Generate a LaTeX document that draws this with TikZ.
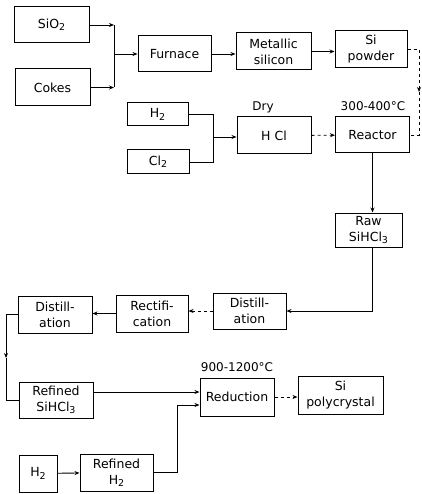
\documentclass[tikz,border=0pt]{standalone}
\usepackage{fontspec}
\setmainfont{DejaVu Sans}
\usetikzlibrary{arrows.meta,positioning}
\newcommand{\chsub}[1]{\raisebox{-0.35ex}{\fontsize{9.5}{9.5}\selectfont #1}}

\begin{document}
\begin{tikzpicture}[
  x=1pt,y=-1pt,
  font=\fontsize{12.5}{16}\selectfont,
  box/.style={draw,line width=1pt,minimum width=74pt,minimum height=37pt,align=center,inner sep=1pt},
  arr/.style={-{Stealth[length=5pt,width=4pt]},line width=0.9pt},
  line/.style={line width=0.9pt},
  tag/.style={font=\fontsize{12}{14}\selectfont}
]
\useasboundingbox (0,0) rectangle (421,494);
% raw materials and silicon
\node[box,minimum width=75pt,minimum height=36pt] (sio2)    at (51.5,25)  {SiO\chsub{2}};
\node[box,minimum width=75pt]                     (cokes)   at (52.5,87.5) {Cokes};
\node[box,minimum width=73pt,minimum height=36pt] (furnace) at (174.5,54) {Furnace};
\node[box,minimum width=75pt]                     (metal)   at (273.5,51.5) {Metallic\\silicon};
\node[box,minimum width=72pt]                     (powder)  at (371,49.5) {Si\\powder};

% hydrogen chloride
\node[box,minimum width=61pt,minimum height=23pt] (h2a)     at (157.5,114.5) {H\chsub{2}};
\node[box,minimum width=62pt,minimum height=24pt] (cl2)     at (158,162)  {Cl\chsub{2}};
\node[box]                                        (hcl)     at (274,135.5) {H Cl};
\node[box,minimum height=36pt]                    (reactor) at (372.5,135) {Reactor};
\node[tag] (dry)  at (263,107) {Dry};
\node[tag] (treac) at (373,106) {300-400°C};

% purification
\node[box,minimum width=67pt,minimum height=34pt] (raw)     at (368.5,230) {Raw\\SiHCl\chsub{3}};
\node[box,minimum width=73pt,minimum height=36pt] (dist1)   at (249.5,311) {Distill-\\ation};
\node[box,minimum width=72pt]                     (rect)    at (152,313.5) {Rectifi-\\cation};
\node[box]                                        (dist2)   at (55,314.5) {Distill-\\ation};
\node[box,minimum height=36pt]                    (refsi)   at (56,400)   {Refined\\SiHCl\chsub{3}};

% reduction
\node[box,minimum height=38pt]                    (reduc)   at (237,397)  {Reduction};
\node[box,minimum width=85pt,minimum height=38pt] (poly)    at (340.5,395) {Si\\polycrystal};
\node[tag] (tred) at (237,367) {900-1200°C};
\node[box,minimum width=38pt]                     (h2b)     at (38,473.5) {H\chsub{2}};
\node[box,minimum width=73pt]                     (refh2)   at (116.5,472.5) {Refined\\H\chsub{2}};

\coordinate (m1) at (114,54);
\coordinate (m2) at (213,137);
\coordinate (pr) at (419,92);
\coordinate (dl) at (6,358);

\draw[arr] (sio2.east) -- (sio2.east -| m1);
\draw[arr] (cokes.east) -- (cokes.east -| m1);
\draw[line] (sio2.east -| m1) -- (cokes.east -| m1);
\draw[arr] (m1) -- (m1 -| furnace.west);
\draw[arr] (furnace.east) -- (furnace.east -| metal.west);
\draw[arr] (metal.east) -- (metal.east -| powder.west);
\draw[arr,dashed] (powder.east) -| (pr);
\draw[line,dashed] (pr) |- (reactor.east);

\draw[line] (h2a.east) -| (m2);
\draw[line] (cl2.east) -| (m2);
\draw[arr] (m2) -- (m2 -| hcl.west);
\draw[arr,dashed] (hcl) -- (reactor);

\draw[arr] (reactor.south) -- (reactor.south |- raw.north);
\draw[arr] (raw.south -| reactor) |- (dist1.east);
\draw[arr,dashed] (dist1.west) -- (dist1.west -| rect.east);
\draw[arr] (rect.west) -- (rect.west -| dist2.east);
\draw[arr] (dist2.west) -| (dl);
\draw[line] (dl) |- (refsi.west);

\draw[arr] ([yshift=8pt]refsi.east) -- ([yshift=8pt]refsi.east -| reduc.west);
\draw[arr] (h2b) -- (refh2);
\draw[arr] (refh2.east) -- ++(24,0) |- ([yshift=-8pt]reduc.west);
\draw[arr,dashed] (reduc.east) -- (reduc.east -| poly.west);
\end{tikzpicture}
\end{document}
